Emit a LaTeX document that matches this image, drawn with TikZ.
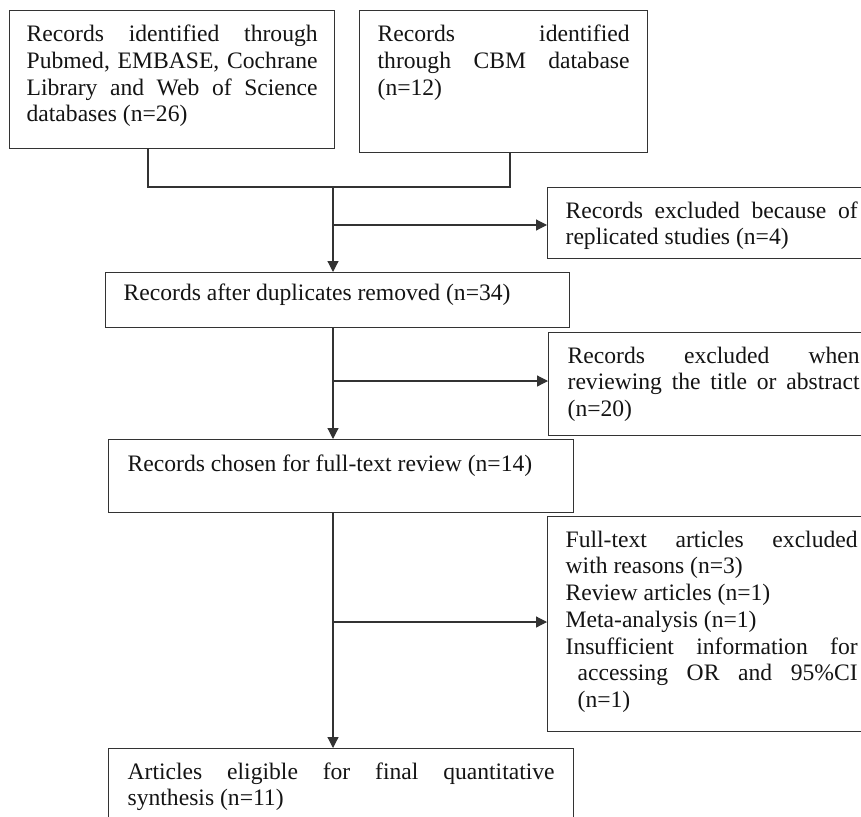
\documentclass[tikz,border=0pt]{standalone}
\usepackage{fontspec}
\setmainfont{Liberation Serif}
\usetikzlibrary{arrows.meta}
\newcommand{\jlin}[1]{\hbox to\linewidth{\strut\frenchspacing\spaceskip=.25em plus 1fil\relax#1}}
\newcommand{\plin}[1]{\hbox to\linewidth{\strut\frenchspacing#1\hfil}}
\newcommand{\bxt}[4]{\parbox[t][#2pt][t]{#1pt}{\vskip#3pt\relax#4}}
\begin{document}
\begin{tikzpicture}[x=1pt,y=-1pt,
  box/.style={draw=black!80, line width=1.3pt, rectangle, anchor=north west,
    inner ysep=0pt, text=black!92, font=\fontsize{23.6pt}{26.7pt}\selectfont},
  line/.style={draw=black!80, line width=1.2pt},
  arr/.style={line, -{Triangle[length=11pt,width=11pt]}}]
\useasboundingbox (0,0) rectangle (861,816);
\clip (0,0) rectangle (861,816);
\fill[white] (0,0) rectangle (861,816);

\node[box, inner xsep=17pt] (b1) at (9,10) {\bxt{291}{138}{12.4}{%
  \jlin{Records identified through}%
  \jlin{Pubmed, EMBASE, Cochrane}%
  \jlin{Library and Web of Science}%
  \plin{databases (n=26)}}};

\node[box, inner xsep=18pt] (b2) at (359,10) {\bxt{252}{142}{12.4}{%
  \jlin{Records identified}%
  \jlin{through CBM database}%
  \plin{(n=12)}}};

\node[box, inner xsep=18pt] (b3) at (105,272) {\bxt{428}{55}{8.9}{%
  \plin{Records after duplicates removed (n=34)}}};

\node[box, inner xsep=18pt] (b4) at (547,187) {\bxt{292}{71}{11.9}{%
  \jlin{Records excluded because of}%
  \plin{replicated studies (n=4)}}};

\node[box, inner xsep=19pt] (b5) at (108,439) {\bxt{427}{73}{12.9}{%
  \plin{Records chosen for full-text review (n=14)}}};

\node[box, inner xsep=19pt] (b6) at (548,332) {\bxt{292}{103}{11.9}{%
  \jlin{Records excluded when}%
  \jlin{reviewing the title or abstract}%
  \plin{(n=20)}}};

\node[box, inner xsep=18pt] (b7) at (547,516) {\bxt{292}{215}{11.9}{%
  \jlin{Full-text articles excluded}%
  \plin{with reasons (n=3)}%
  \plin{Review articles (n=1)}%
  \plin{Meta-analysis (n=1)}%
  \jlin{Insufficient information for}%
  \jlin{\hspace*{12pt}accessing OR and 95\%CI}%
  \plin{\hspace*{12pt}(n=1)}}};

\node[box, inner xsep=19pt] (b8) at (108,748) {\bxt{427}{80}{11.9}{%
  \jlin{Articles eligible for final quantitative}%
  \plin{synthesis (n=11)}}};

\coordinate (j) at (333,187);
\coordinate (k1) at (333,225);
\coordinate (k2) at (333,381);
\coordinate (k3) at (333,622);

\draw[line] ([xshift=139pt]b1.south west) |- (j) -| ([xshift=151pt]b2.south west);
\draw[arr] (j) -- (j |- b3.north);
\draw[arr] (k1) -- (k1 -| b4.west);
\draw[arr] (j |- b3.south) -- (j |- b5.north);
\draw[arr] (k2) -- (k2 -| b6.west);
\draw[arr] (j |- b5.south) -- (j |- b8.north);
\draw[arr] (k3) -- (k3 -| b7.west);
\end{tikzpicture}
\end{document}
